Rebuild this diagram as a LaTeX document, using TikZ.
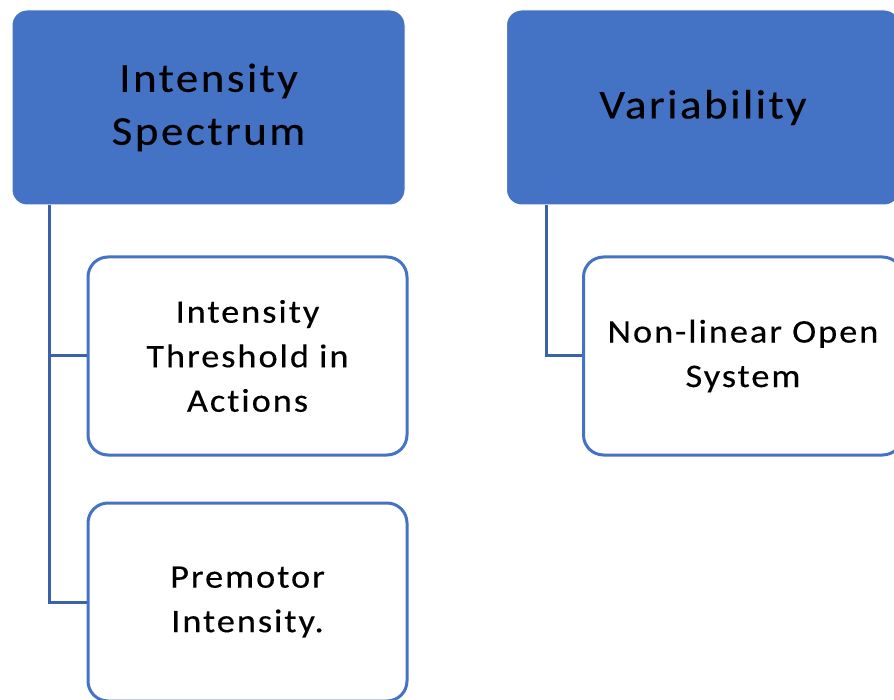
\documentclass[tikz,border=0pt]{standalone}
\usepackage{fontspec}
\setmainfont{Carlito}
\newfontfamily\headfont[LetterSpace=6, FakeStretch=1.1, FakeBold=0.35, Ligatures=NoCommon]{Carlito}
\definecolor{hdrblue}{HTML}{4472C4}
\definecolor{linkblue}{HTML}{3A62A8}
\tikzset{
  header/.style={fill=hdrblue, draw=white, line width=1pt, rounded corners=15pt,
    minimum width=393pt, minimum height=195pt, align=center, inner sep=0pt,
    font=\headfont\fontsize{41}{53}\selectfont, text=black},
  leaf/.style={fill=white, draw=hdrblue, line width=3pt, rounded corners=20pt,
    minimum width=319pt, minimum height=198pt, align=center, inner sep=0pt,
    font=\headfont\fontsize{33}{44.5}\selectfont, text=black},
  link/.style={draw=linkblue, line width=3pt}
}
\begin{document}
\begin{tikzpicture}[x=1pt,y=1pt]
  \useasboundingbox (0,0) rectangle (894,-700);
  % column headers
  \node[header] (h1) at (208.5,-107.5) {Intensity\\Spectrum};
  \node[header] (h2) at (703,-107.5) {Variability};
  % start points of the tree links, at the foot of each header
  \coordinate (t1) at (49,-205);
  \coordinate (t2) at (546,-205);
  % child boxes
  \node[leaf] (c1) at (247.5,-356) {Intensity\\Threshold in\\Actions};
  \node[leaf] (c2) at (247.5,-602) {Premotor\\Intensity.};
  \node[leaf] (c3) at (743,-356) {Non-linear Open\\System};
  % tree links
  \draw[link] (t1) |- (c1.west);
  \draw[link] (t1) |- (c2.west);
  \draw[link] (t2) |- (c3.west);
\end{tikzpicture}
\end{document}
